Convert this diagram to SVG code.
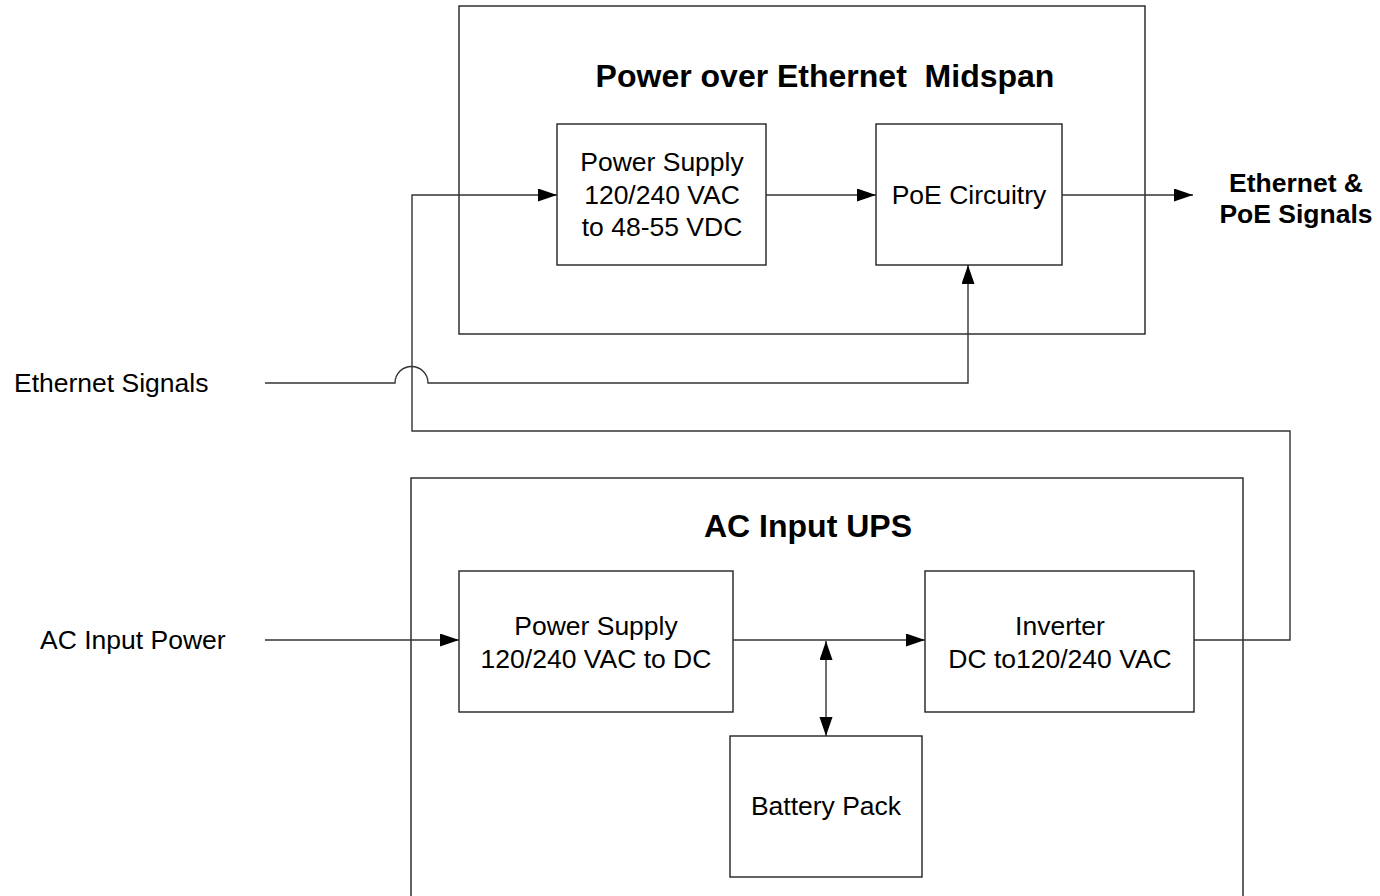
<svg xmlns="http://www.w3.org/2000/svg" width="1380" height="896" viewBox="0 0 1380 896">
<style>
.box{fill:none;stroke:#222;stroke-width:1.4}
.ln{fill:none;stroke:#333;stroke-width:1.4}
.t{font-family:"Liberation Sans",Arial,sans-serif;font-size:26.5px;fill:#000;text-anchor:middle}
.tl{font-family:"Liberation Sans",Arial,sans-serif;font-size:26.5px;fill:#000}
.b{font-family:"Liberation Sans",Arial,sans-serif;font-weight:bold;fill:#000;text-anchor:middle}
</style>
<defs>
<marker id="ah" markerUnits="userSpaceOnUse" markerWidth="20" markerHeight="14" refX="19" refY="6.5" orient="auto-start-reverse">
<path d="M0,0 L19,6.5 L0,13 z" fill="#000"/>
</marker>
</defs>
<rect width="1380" height="896" fill="#fff"/>
<g id="midspan">
<rect class="box" x="459" y="6" width="686" height="328"/>
<text class="b" x="825" y="87" font-size="32" xml:space="preserve">Power over Ethernet  Midspan</text>
</g>
<g id="ps-top">
<rect class="box" x="557" y="124" width="209" height="141"/>
<text class="t" x="662" y="171">Power Supply</text>
<text class="t" x="662" y="204">120/240 VAC</text>
<text class="t" x="662" y="236">to 48-55 VDC</text>
</g>
<g id="poe">
<rect class="box" x="876" y="124" width="186" height="141"/>
<text class="t" x="969" y="204">PoE Circuitry</text>
</g>
<g id="out-label">
<text class="b" x="1296" y="192" font-size="26.5">Ethernet &amp;</text>
<text class="b" x="1296" y="223" font-size="26.5">PoE Signals</text>
</g>
<g id="eth-label">
<text class="tl" x="14" y="392">Ethernet Signals</text>
</g>
<g id="ac-label">
<text class="tl" x="40" y="649">AC Input Power</text>
</g>
<g id="ups">
<rect class="box" x="411" y="478" width="832" height="440"/>
<text class="b" x="808" y="537" font-size="32">AC Input UPS</text>
</g>
<g id="ps-bottom">
<rect class="box" x="459" y="571" width="274" height="141"/>
<text class="t" x="596" y="635">Power Supply</text>
<text class="t" x="596" y="668">120/240 VAC to DC</text>
</g>
<g id="inverter">
<rect class="box" x="925" y="571" width="269" height="141"/>
<text class="t" x="1060" y="635">Inverter</text>
<text class="t" x="1060" y="668">DC to120/240 VAC</text>
</g>
<g id="battery">
<rect class="box" x="730" y="736" width="192" height="141"/>
<text class="t" x="826" y="815">Battery Pack</text>
</g>
<g id="connectors">
<path class="ln" d="M1194,640 H1290 V431 H412 V195 H557" marker-end="url(#ah)"/>
<path class="ln" d="M265,383 H395 A16.5,16.5 0 0 1 428,383 H968 V265" marker-end="url(#ah)"/>
<path class="ln" d="M766,195 H876" marker-end="url(#ah)"/>
<path class="ln" d="M1062,195 H1193" marker-end="url(#ah)"/>
<path class="ln" d="M265,640 H459" marker-end="url(#ah)"/>
<path class="ln" d="M733,640 H925" marker-end="url(#ah)"/>
<path class="ln" d="M826,641 V736" marker-start="url(#ah)" marker-end="url(#ah)"/>
</g>
</svg>
